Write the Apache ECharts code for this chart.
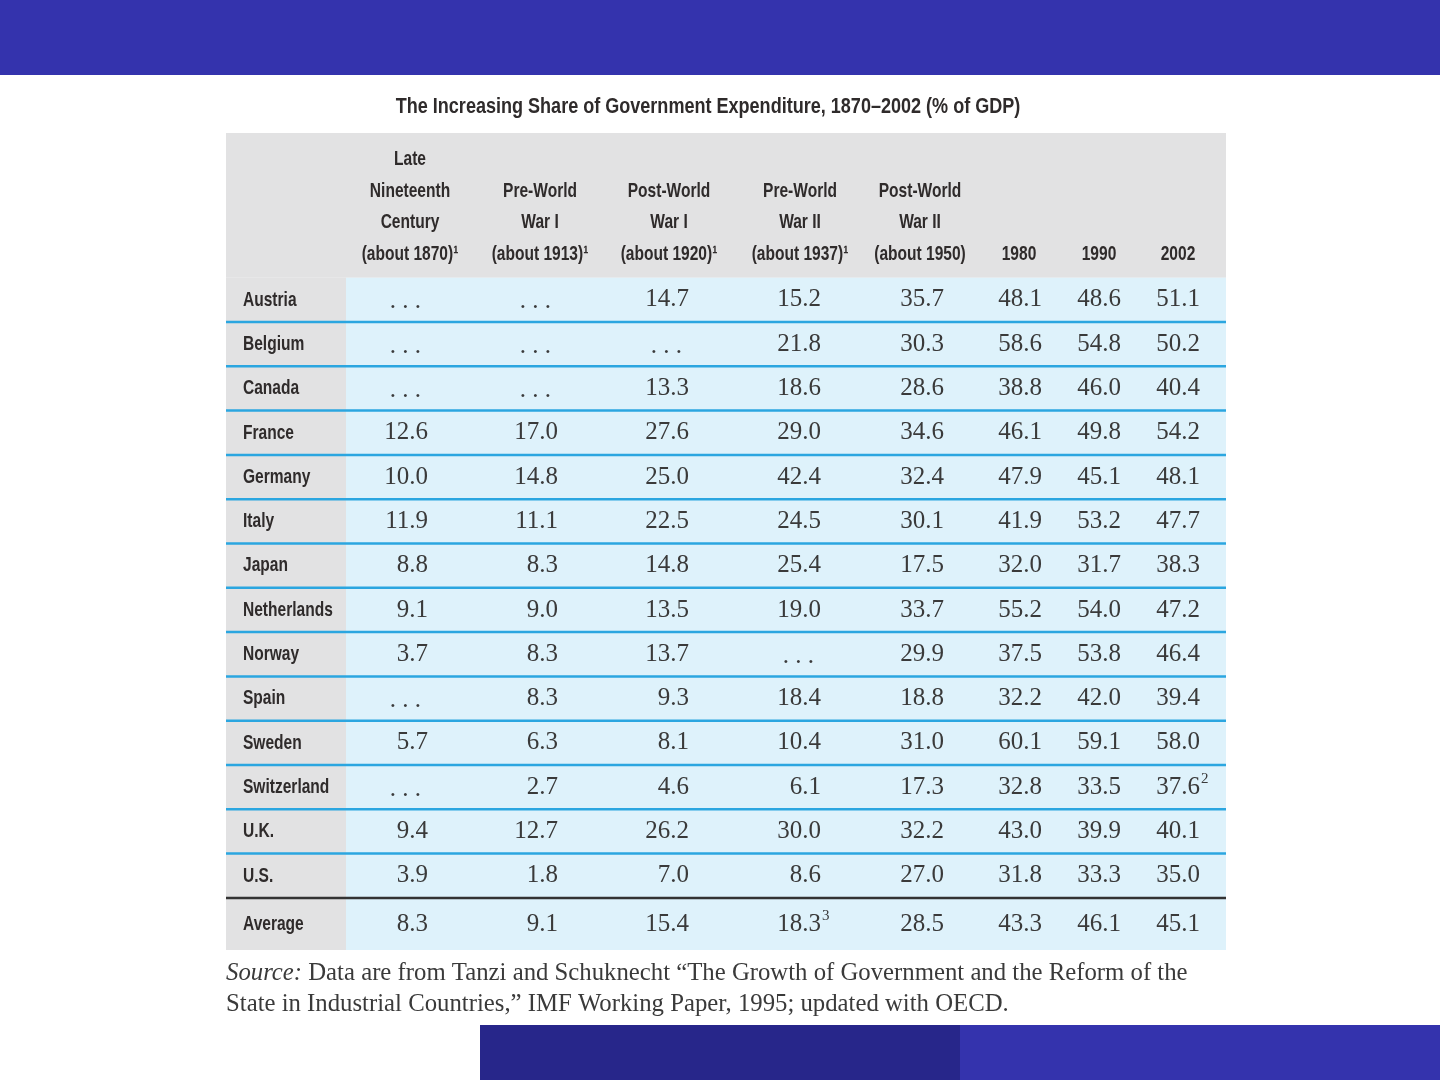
<!DOCTYPE html>
<html>
<head>
<meta charset="utf-8">
<title>Government Expenditure</title>
<script src="https://cdn.jsdelivr.net/npm/echarts@6/dist/echarts.min.js"></script>
<style>
	html, body { margin: 0; padding: 0; background: #fff; }
	#charts { width: 1440px; height: 1080px; }
</style>
</head>
<body>
<div id="charts"></div>
<script>
// rows of the table
var rows = ['Austria', 'Belgium', 'Canada', 'France', 'Germany', 'Italy', 'Japan', 'Netherlands',
	'Norway', 'Spain', 'Sweden', 'Switzerland', 'U.K.', 'U.S.', 'Average'];

// column headers, one array of lines per column
var headers = [
	['Late', 'Nineteenth', 'Century', '(about 1870)¹'],
	['Pre-World', 'War I', '(about 1913)¹'],
	['Post-World', 'War I', '(about 1920)¹'],
	['Pre-World', 'War II', '(about 1937)¹'],
	['Post-World', 'War II', '(about 1950)'],
	['1980'],
	['1990'],
	['2002']
];

// % of GDP, null = "..." (no data)
var about1870 = [null, null, null, 12.6, 10.0, 11.9, 8.8, 9.1, 3.7, null, 5.7, null, 9.4, 3.9, 8.3];
var about1913 = [null, null, null, 17.0, 14.8, 11.1, 8.3, 9.0, 8.3, 8.3, 6.3, 2.7, 12.7, 1.8, 9.1];
var about1920 = [14.7, null, 13.3, 27.6, 25.0, 22.5, 14.8, 13.5, 13.7, 9.3, 8.1, 4.6, 26.2, 7.0, 15.4];
var about1937 = [15.2, 21.8, 18.6, 29.0, 42.4, 24.5, 25.4, 19.0, null, 18.4, 10.4, 6.1, 30.0, 8.6, 18.3];
var about1950 = [35.7, 30.3, 28.6, 34.6, 32.4, 30.1, 17.5, 33.7, 29.9, 18.8, 31.0, 17.3, 32.2, 27.0, 28.5];
var y1980 = [48.1, 58.6, 38.8, 46.1, 47.9, 41.9, 32.0, 55.2, 37.5, 32.2, 60.1, 32.8, 43.0, 31.8, 43.3];
var y1990 = [48.6, 54.8, 46.0, 49.8, 45.1, 53.2, 31.7, 54.0, 53.8, 42.0, 59.1, 33.5, 39.9, 33.3, 46.1];
var y2002 = [51.1, 50.2, 40.4, 54.2, 48.1, 47.7, 38.3, 47.2, 46.4, 39.4, 58.0, 37.6, 40.1, 35.0, 45.1];

// footnote marks on cells: [row, col, mark]
var cellNotes = [[11, 7, '2'], [14, 3, '3']];

var columns = [about1870, about1913, about1920, about1937, about1950, y1980, y1990, y2002];

// layout (table units = px from table top-left)
var TABLE_W = 1000, TABLE_H = 817;
var HEAD_H = 144.7, ROW_H = 44.3, LABEL_W = 120;
var numRight = [202, 332, 463, 595, 718, 816, 895, 974];
var headCenter = [184, 314, 443, 574, 694, 793, 873, 952];
var headLineY = [26, 58, 89, 121];

var GRAY = '#e2e2e3', LIGHT = '#def2fb', BLUE_LINE = '#2ba6e0', TEXT = '#2f2b2b', NUM = '#3a3a3a';
var HEAD_FONT = 'bold 21px "Liberation Sans", Arial, sans-serif';
var NUM_FONT = '25px "Liberation Serif", "Times New Roman", serif';
var SQUEEZE = 0.74;

function rowTop(r) {
	return HEAD_H + r * ROW_H;
}
function rowBottom(r) {
	return r == rows.length - 1 ? TABLE_H : rowTop(r + 1);
}

function rectBetween(api, x0, y0, x1, y1, fill) {
	var a = api.coord([x0, y0]);
	var b = api.coord([x1, y1]);
	return {
		type: 'rect',
		shape: { x: a[0], y: a[1], width: b[0] - a[0], height: b[1] - a[1] },
		style: { fill: fill }
	};
}

function condensed(pt, text, font, align, fill) {
	return {
		type: 'text',
		x: pt[0],
		y: pt[1],
		scaleX: SQUEEZE,
		z2: 10,
		style: { text: text, font: font, fill: fill, align: align, verticalAlign: 'middle' }
	};
}

// header cells
var headData = [];
for (var c = 0; c < headers.length; c++) headData.push([c]);

// row bands
var rowData = [];
for (var r = 0; r < rows.length; r++) rowData.push([r]);

// value cells
var cellData = [];
for (var c = 0; c < columns.length; c++) {
	for (var r = 0; r < rows.length; r++) {
		var mark = '';
		cellNotes.forEach(function(n) {
			if (n[0] == r && n[1] == c) mark = n[2];
		});
		cellData.push([c, r, columns[c][r], mark]);
	}
}

var option = {
	animation: false,
	grid: { left: 226, top: 133, width: TABLE_W, height: TABLE_H },
	xAxis: { type: 'value', min: 0, max: TABLE_W, show: false },
	yAxis: { type: 'value', min: 0, max: TABLE_H, inverse: true, show: false },
	graphic: [
		{ type: 'rect', left: 0, top: 0, shape: { width: 1440, height: 75 }, style: { fill: '#3433ad' } },
		{ type: 'rect', left: 480, top: 1025, shape: { width: 480, height: 55 }, style: { fill: '#27268a' } },
		{ type: 'rect', left: 960, top: 1025, shape: { width: 480, height: 55 }, style: { fill: '#3433ad' } },
		{
			type: 'text', x: 708, y: 107, scaleX: 0.82,
			style: {
				text: 'The Increasing Share of Government Expenditure, 1870\u20132002 (% of GDP)',
				font: 'bold 22px "Liberation Sans", Arial, sans-serif', fill: TEXT,
				align: 'center', verticalAlign: 'middle'
			}
		},
		{
			type: 'text', x: 226, y: 973, scaleX: 0.99,
			style: {
				text: '{i|Source:} Data are from Tanzi and Schuknecht \u201cThe Growth of Government and the Reform of the',
				font: '25px "Liberation Serif", serif', fill: NUM, verticalAlign: 'middle',
				rich: { i: { font: 'italic 25px "Liberation Serif", serif', fill: NUM } }
			}
		},
		{
			type: 'text', x: 226, y: 1004, scaleX: 0.99,
			style: {
				text: 'State in Industrial Countries,\u201d IMF Working Paper, 1995; updated with OECD.',
				font: '25px "Liberation Serif", serif', fill: NUM, verticalAlign: 'middle'
			}
		}
	],
	series: [
		{
			// header band + header text
			type: 'custom',
			data: headData,
			renderItem: function(params, api) {
				var c = api.value(0);
				var kids = [];
				if (c == 0) kids.push(rectBetween(api, 0, 0, TABLE_W, HEAD_H, GRAY));
				var lines = headers[c];
				var start = headLineY.length - lines.length;
				for (var i = 0; i < lines.length; i++) {
					var pt = api.coord([headCenter[c], headLineY[start + i]]);
					kids.push(condensed(pt, lines[i], HEAD_FONT, 'center', TEXT));
				}
				return { type: 'group', children: kids };
			}
		},
		{
			// row bands, row labels, separators
			type: 'custom',
			data: rowData,
			renderItem: function(params, api) {
				var r = api.value(0);
				var top = rowTop(r), bot = rowBottom(r);
				var kids = [
					rectBetween(api, 0, top, LABEL_W, bot, GRAY),
					rectBetween(api, LABEL_W, top, TABLE_W, bot, LIGHT),
					condensed(api.coord([17, (top + bot) / 2]), rows[r], HEAD_FONT, 'left', TEXT)
				];
				if (r < rows.length - 1) {
					var a = api.coord([0, bot]);
					var b = api.coord([TABLE_W, bot]);
					kids.push({
						type: 'line',
						z2: 20,
						shape: { x1: a[0], y1: a[1], x2: b[0], y2: b[1] },
						style: { stroke: r == rows.length - 2 ? '#333' : BLUE_LINE, lineWidth: 2.5 }
					});
				}
				return { type: 'group', children: kids };
			}
		},
		{
			// values
			type: 'custom',
			data: cellData,
			renderItem: function(params, api) {
				var c = api.value(0), r = api.value(1);
				var v = columns[c][r];
				var mark = cellData[params.dataIndex][3];
				var cy = (rowTop(r) + rowBottom(r)) / 2;
				var kids = [];
				if (v == null) {
					var p = api.coord([numRight[c] - 7, cy]);
					kids.push({
						type: 'text', x: p[0], y: p[1] + 2, z2: 10,
						style: { text: '. . .', font: NUM_FONT, fill: NUM, align: 'right', verticalAlign: 'middle' }
					});
				} else {
					var p = api.coord([numRight[c], cy]);
					kids.push({
						type: 'text', x: p[0], y: p[1], z2: 10,
						style: { text: v.toFixed(1), font: NUM_FONT, fill: NUM, align: 'right', verticalAlign: 'middle' }
					});
					if (mark) {
						kids.push({
							type: 'text', x: p[0] + 1, y: p[1] - 8, z2: 10,
							style: { text: mark, font: '15px "Liberation Serif", serif', fill: NUM, align: 'left', verticalAlign: 'middle' }
						});
					}
				}
				return { type: 'group', children: kids };
			}
		}
	]
};

var myChart = echarts.init(document.getElementById('charts'));
myChart.setOption(option);
</script>
</body>
</html>
